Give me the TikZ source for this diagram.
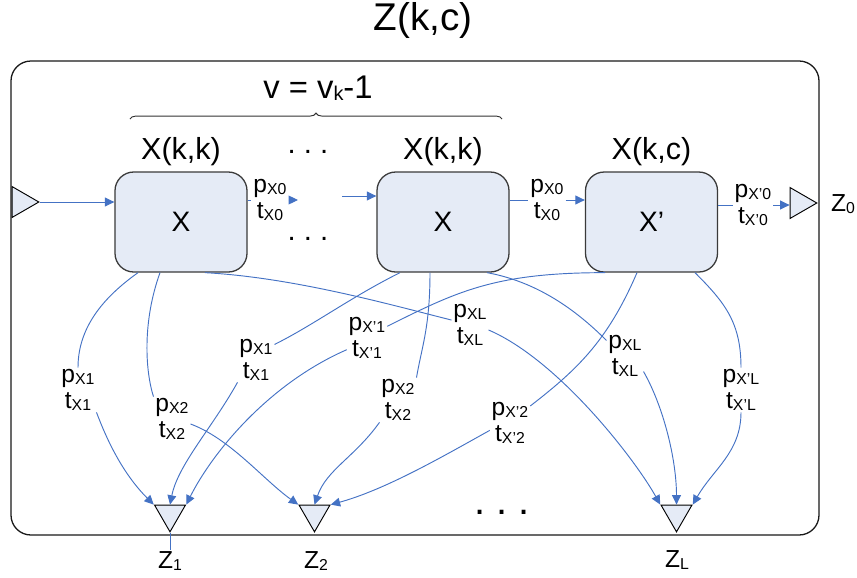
\documentclass[tikz,border=0pt]{standalone}
\usepackage{fontspec}
\setmainfont{Liberation Sans}
\usetikzlibrary{arrows.meta, calc, shapes.geometric, decorations.pathreplacing}
\definecolor{linkblue}{HTML}{4472C4}
\definecolor{boxfill}{HTML}{E5EBF6}
\definecolor{boxedge}{HTML}{3A3A3A}
\newcommand{\sbs}[2][13.5]{\raisebox{-1.5pt}{\fontsize{#1}{#1}\selectfont #2}}
\tikzset{
  >={Triangle[length=8pt, width=7.5pt]},
  %
  flow/.style={draw=linkblue, line width=0.8pt, ->},
  flowline/.style={draw=linkblue, line width=0.8pt},
  %
  xbox/.style={draw=boxedge, line width=1.1pt, fill=boxfill, rounded corners=16pt,
               minimum width=3.96cm, minimum height=3cm,
               font=\fontsize{24}{24}\selectfont},
  port/.style={regular polygon, regular polygon sides=3, draw=black, fill=boxfill,
               line width=0.8pt, inner sep=0pt, minimum size=1.07cm},
  %
  plbl/.style={align=center, inner sep=1.5pt, font=\fontsize{21}{22}\selectfont},
  zlbl/.style={inner sep=1pt, font=\fontsize{21}{22}\selectfont},
  head/.style={inner sep=1pt, font=\fontsize{26}{26}\selectfont},
  dotrow/.style={inner sep=0pt, font=\fontsize{25}{25}\selectfont},
}
\begin{document}
\begin{tikzpicture}[x=0.03cm, y=-0.03cm]
  \useasboundingbox (0,0) rectangle (857,577);

  \node[head, font=\fontsize{33}{33}\selectfont] (title) at (423,20) {Z(k,c)};
  \draw[black!90, line width=1.1pt, rounded corners=17pt] (11,61) rectangle (819,535);

  \draw[decorate, decoration={brace, amplitude=5pt}, black!80, line width=0.8pt] (130,119) -- (502,119);
  \node[head, font=\fontsize{28}{28}\selectfont] (vk) at (318,88) {v = v\sbs[17]{k}-1};

  \node[xbox] (b1) at (181,222)   {X};
  \node[xbox] (b2) at (443,222)   {X};
  \node[xbox] (b3) at (651.5,222) {X’};
  \node[head] (h1) at (181,152)   {X(k,k)};
  \node[head] (h2) at (443,152)   {X(k,k)};
  \node[head] (h3) at (651.5,152) {X(k,c)};

  \node[dotrow] (dtop) at (308,152) {.\ .\ .};
  \node[dotrow] (dbot) at (308,239) {.\ .\ .};
  \node[dotrow, font=\fontsize{34}{34}\selectfont] (dz) at (502,512) {.\ .\ .};

  \node[port, shape border rotate=-90] (zin) at (21,202) {};
  \node[port, shape border rotate=-90] (z0)  at (799,203) {};
  \node[port, shape border rotate=180] (z1)  at (170,514) {};
  \node[port, shape border rotate=180] (z2)  at (314.5,514) {};
  \node[port, shape border rotate=180] (zL)  at (676.5,514) {};
  \node[zlbl] (n0) at (843,204) {Z\sbs{0}};
  \node[zlbl] (n1) at (170,561) {Z\sbs{1}};
  \node[zlbl] (n2) at (316,561) {Z\sbs{2}};
  \node[zlbl] (nL) at (677,560) {Z\sbs{L}};

  \node[plbl] (l10) at (270,200) {p\sbs{X0}\\t\sbs{X0}};
  \node[plbl] (l20) at (547,200) {p\sbs{X0}\\t\sbs{X0}};
  \node[plbl] (l30) at (753,205) {p\sbs{X’0}\\t\sbs{X’0}};
  \coordinate (d1) at (298,200);
  \coordinate (d2) at (342,196);

  \draw[flow] (zin.corner 1) -- (zin.corner 1 -| b1.west);
  \draw[flowline] (b1.east |- l10.west) -- (l10.west);
  \draw[flow] (l10.east) -- (d1);
  \draw[flow] (d2) -- (d2 -| b2.west);
  \draw[flowline] (b2.east |- l20.west) -- (l20.west);
  \draw[flow] (l20.east) -- (l20.east -| b3.west);
  \draw[flowline] (b3.east |- l30.west) -- (l30.west);
  \draw[flow] (l30.east) -- (l30.east -| z0.west);

  \node[plbl] (l11) at (78,390)  {p\sbs{X1}\\t\sbs{X1}};
  \node[plbl] (l12) at (172,419) {p\sbs{X2}\\t\sbs{X2}};
  \node[plbl] (l1L) at (470,325) {p\sbs{XL}\\t\sbs{XL}};
  \node[plbl] (l21) at (256,360) {p\sbs{X1}\\t\sbs{X1}};
  \node[plbl] (l22) at (398,400) {p\sbs{X2}\\t\sbs{X2}};
  \node[plbl] (l2L) at (625,356) {p\sbs{XL}\\t\sbs{XL}};
  \node[plbl] (l31) at (367,338) {p\sbs{X’1}\\t\sbs{X’1}};
  \node[plbl] (l32) at (510,423) {p\sbs{X’2}\\t\sbs{X’2}};
  \node[plbl] (l3L) at (741,390) {p\sbs{X’L}\\t\sbs{X’L}};

  \draw[flowline] ($(b1.south)+(-43,0)$) .. controls +(-35,25) and +(0,-40) .. (l11.north);
  \draw[flow] (l11.south east) .. controls +(15,40) and +(-25,-25) .. (z1.corner 3);
  \draw[flowline] ($(b1.south)+(-21,0)$) .. controls +(-18,50) and +(-8,-25) .. (l12.north west);
  \draw[flow] (l12.-15) .. controls +(40,15) and +(-35,-25) .. (z2.corner 3);
  \draw[flowline] ($(b1.south)+(24,0)$) .. controls +(90,5) and +(-60,-15) .. (l1L.165);
  \draw[flow] (l1L.-15) .. controls +(70,30) and +(-25,-45) .. (zL.corner 3);

  \draw[flowline] ($(b2.south)+(-43,0)$) .. controls +(-50,25) and +(40,-20) .. (l21.40);
  \draw[flow] (l21.south west) .. controls +(-25,45) and +(8,-40) .. (z1.north);
  \draw[flowline] ($(b2.south)+(-13,0)$) .. controls +(0,55) and +(5,-30) .. (l22.north east);
  \draw[flow] (l22.south west) .. controls +(-25,35) and +(12,-35) .. (z2.north);
  \draw[flowline] ($(b2.south)+(44,0)$) .. controls +(55,10) and +(-25,-25) .. (l2L.140);
  \draw[flow] (l2L.-40) .. controls +(20,35) and +(0,-45) .. (zL.north);

  \draw[flowline] ($(b3.south)+(-46.5,0)$) .. controls +(-110,0) and +(70,-35) .. (l31.30);
  \draw[flow] (l31.210) .. controls +(-80,35) and +(25,-50) .. (z1.corner 2);
  \draw[flowline] ($(b3.south)+(-14.5,0)$) .. controls +(-30,70) and +(45,-35) .. (l32.40);
  \draw[flow] (l32.200) .. controls +(-45,25) and +(55,-15) .. (z2.corner 2);
  \draw[flowline] ($(b3.south)+(43.5,0)$) .. controls +(30,30) and +(0,-45) .. (l3L.north);
  \draw[flow] (l3L.south) .. controls +(0,40) and +(20,-35) .. (zL.corner 2);

  \draw[flowline] (z1.corner 1) -- (z1.corner 1 |- n1.north);

\end{tikzpicture}
\end{document}
